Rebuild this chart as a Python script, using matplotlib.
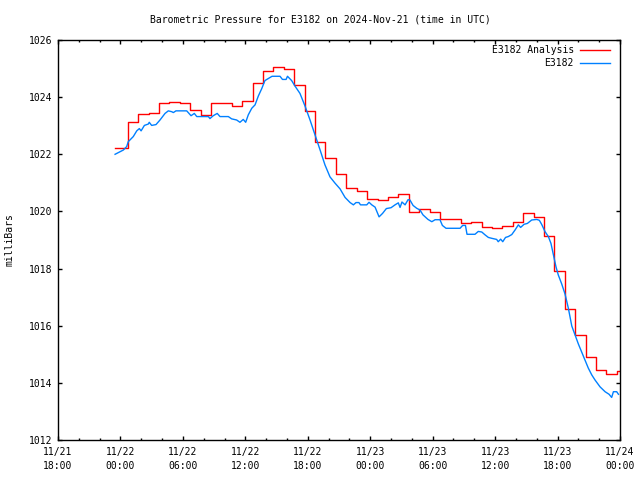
import pandas as pd
import matplotlib
matplotlib.use("Agg")
import matplotlib.pyplot as plt
import matplotlib.dates as mdates
from matplotlib.lines import Line2D

# hourly analysis values (step plot)
analysis_values = [
    1022.22, 1023.13, 1023.40, 1023.44, 1023.80, 1023.83, 1023.80, 1023.55, 1023.37, 1023.80,
    1023.80, 1023.69, 1023.85, 1024.48, 1024.91, 1025.05, 1024.97, 1024.43, 1023.51, 1022.44,
    1021.86, 1021.31, 1020.83, 1020.71, 1020.42, 1020.40, 1020.49, 1020.60, 1019.98, 1020.07,
    1019.97, 1019.72, 1019.72, 1019.61, 1019.63, 1019.47, 1019.43, 1019.49, 1019.63, 1019.93,
    1019.79, 1019.14, 1017.91, 1016.58, 1015.66, 1014.90, 1014.44, 1014.32, 1014.41,
]
analysis_first = "2024-11-21 23:30"
analysis_hourly_from = "2024-11-22 00:42"
analysis_end = "2024-11-24 00:00"

# station observations, minutes after 2024-11-21 18:00
obs_start = "2024-11-21 18:00"
obs_minutes = [
    329, 357, 377, 396, 405, 434, 454, 469, 479, 498,
    521, 526, 540, 565, 588, 617, 636, 656, 665, 680,
    742, 767, 786, 800, 867, 876, 895, 918, 934, 982,
    1001, 1030, 1049, 1068, 1082, 1097, 1117, 1136, 1155, 1174,
    1193, 1212, 1234, 1280, 1294, 1315, 1323, 1347, 1366, 1395,
    1424, 1453, 1482, 1511, 1539, 1568, 1597, 1626, 1655, 1684,
    1703, 1718, 1735, 1744, 1780, 1793, 1809, 1828, 1851, 1871,
    1893, 1920, 1943, 1962, 1972, 1983, 2001, 2018, 2029, 2047,
    2068, 2087, 2104, 2133, 2155, 2174, 2202, 2216, 2237, 2318,
    2333, 2349, 2358, 2404, 2423, 2443, 2462, 2481, 2500, 2529,
    2538, 2552, 2564, 2580, 2596, 2616, 2635, 2654, 2667, 2687,
    2706, 2731, 2760, 2775, 2789, 2808, 2827, 2842, 2856, 2871,
    2884, 2904, 2923, 2942, 2962, 2981, 3000, 3019, 3038, 3057,
    3077, 3096, 3125, 3154, 3177, 3192, 3202, 3221, 3231,
]
obs_values = [
    1022.00, 1022.09, 1022.15, 1022.27, 1022.44, 1022.62, 1022.82, 1022.90, 1022.82, 1023.01,
    1023.06, 1023.12, 1023.01, 1023.04, 1023.20, 1023.43, 1023.52, 1023.49, 1023.46, 1023.52,
    1023.52, 1023.35, 1023.43, 1023.32, 1023.32, 1023.25, 1023.35, 1023.43, 1023.32, 1023.32,
    1023.24, 1023.20, 1023.12, 1023.22, 1023.12, 1023.38, 1023.61, 1023.73, 1024.04, 1024.29,
    1024.58, 1024.65, 1024.73, 1024.73, 1024.62, 1024.62, 1024.73, 1024.58, 1024.39, 1024.13,
    1023.69, 1023.20, 1022.68, 1022.15, 1021.63, 1021.21, 1020.99, 1020.79, 1020.49, 1020.31,
    1020.23, 1020.31, 1020.31, 1020.23, 1020.23, 1020.32, 1020.23, 1020.15, 1019.81, 1019.93,
    1020.10, 1020.13, 1020.23, 1020.30, 1020.14, 1020.33, 1020.23, 1020.41, 1020.40, 1020.21,
    1020.11, 1020.05, 1019.88, 1019.72, 1019.64, 1019.71, 1019.71, 1019.51, 1019.41, 1019.41,
    1019.51, 1019.51, 1019.20, 1019.20, 1019.30, 1019.28, 1019.18, 1019.09, 1019.06, 1019.02,
    1018.94, 1019.03, 1018.94, 1019.09, 1019.12, 1019.19, 1019.35, 1019.53, 1019.44, 1019.55,
    1019.58, 1019.70, 1019.72, 1019.69, 1019.54, 1019.29, 1019.12, 1018.88, 1018.48, 1018.06,
    1017.78, 1017.46, 1017.11, 1016.62, 1015.99, 1015.68, 1015.36, 1015.08, 1014.80, 1014.52,
    1014.28, 1014.10, 1013.86, 1013.69, 1013.60, 1013.49, 1013.69, 1013.69, 1013.60,
]

y_ticks = [1012, 1014, 1016, 1018, 1020, 1022, 1024, 1026]
x_min, x_max = "2024-11-21 18:00", "2024-11-24 00:00"

FONT = "DejaVu Sans Mono"
RED = "#ff0000"
BLUE = "#0080ff"

plt.rcParams["font.family"] = FONT
plt.rcParams["font.size"] = 7

# analysis times: first point, then hourly steps, then repeat last value at the end
a_times = [pd.Timestamp(analysis_first)] + list(
    pd.date_range(analysis_hourly_from, periods=len(analysis_values) - 1, freq="h"))
a_times.append(pd.Timestamp(analysis_end))
a_vals = analysis_values + [analysis_values[-1]]

o_times = pd.Timestamp(obs_start) + pd.to_timedelta(obs_minutes, unit="min")

fig = plt.figure(figsize=(6.4, 4.8), dpi=100)
ax = fig.add_axes([58 / 640, 40 / 480, 562 / 640, 400 / 480])

ax.plot(a_times, a_vals, color=RED, lw=1.0, drawstyle="steps-post")
ax.plot(o_times, obs_values, color=BLUE, lw=1.0)

ax.set_xlim(pd.Timestamp(x_min), pd.Timestamp(x_max))
ax.set_ylim(y_ticks[0], y_ticks[-1])
ax.set_yticks(y_ticks)
ax.set_yticklabels([str(v) for v in y_ticks])

ax.xaxis.set_major_locator(mdates.HourLocator(byhour=[0, 6, 12, 18]))
ax.xaxis.set_minor_locator(mdates.HourLocator(byhour=range(0, 24, 2)))
ax.xaxis.set_major_formatter(mdates.DateFormatter("%m/%d\n%H:%M"))

ax.tick_params(which="both", direction="in", top=True, right=True, width=1, color="black")
ax.tick_params(which="major", length=3.2, pad=4, labelsize=7)
ax.tick_params(which="minor", length=1.6)
ax.tick_params(axis="x", which="major", pad=5)
for lbl in ax.get_xticklabels():
    lbl.set_linespacing(1.45)
for s in ax.spines.values():
    s.set_linewidth(1.0)

fig.text(0.5, 1 - 19 / 480, "Barometric Pressure for E3182 on 2024-Nov-21 (time in UTC)",
         ha="center", va="center", fontsize=7)
fig.text(10 / 640, 0.5, "milliBars", rotation=90, ha="center", va="center", fontsize=7)

# legend, gnuplot style: right-aligned text with sample line on the right
legend = [("E3182 Analysis", RED), ("E3182", BLUE)]
for i, (label, col) in enumerate(legend):
    y = 0.975 - i * 0.0325
    ax.text(0.918, y, label, transform=ax.transAxes, ha="right", va="center", fontsize=7)
    ax.add_line(Line2D([0.929, 0.983], [y, y], transform=ax.transAxes, color=col, lw=1.0))

fig.savefig("out.png", dpi=100)
